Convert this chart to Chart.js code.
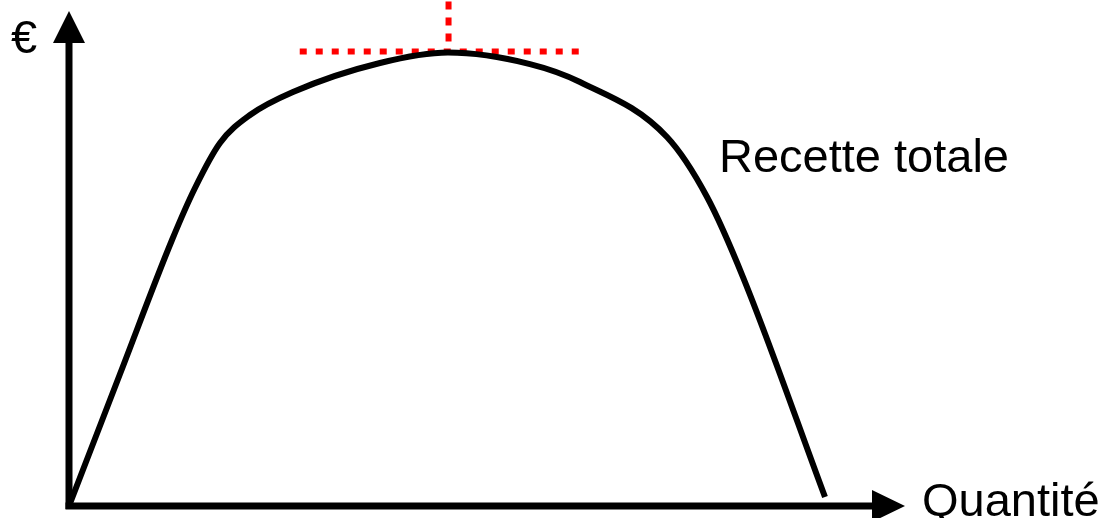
<!DOCTYPE html>
<html lang="fr">
  <head>
    <meta charset="UTF-8" />
    <title>Recette totale</title>
    <script src="https://cdn.jsdelivr.net/npm/chart.js"></script>
    <style>
      body { margin: 0; background: #fff; }
    </style>
  </head>
  <body>
    <div style="width: 1113px; height: 518px">
      <canvas id="myChart"></canvas>
    </div>
  </body>
  <script>
    // courbe de recette totale (quantité -> €)
    const quantite = [0, 6.1, 12.32, 15.07, 18.06, 21.65, 26.79, 37.2, 45.33, 55.14, 61.12, 71.53, 76.32, 80.62, 90.43];
    const recette = [0, 26.61, 53.62, 64.1, 73.17, 78.81, 83.45, 89.3, 91.41, 89.09, 85.47, 74.38, 62.29, 46.16, 1.81];

    // maximum (tangente horizontale en pointillés)
    const maxX = 45.4;
    const maxY = 91.6;
    const tangenteX = [27.6, 61.1];
    const verticaleY = [101.7, 92.5];

    const labelY = "€";
    const labelX = "Quantité";
    const labelCourbe = "Recette totale";

    const police = "'Liberation Sans', Arial, sans-serif";

    // axes avec flèches + textes
    const axesPlugin = {
      id: "axes",
      beforeDatasetsDraw(chart) {
        const c = chart.ctx;
        const sx = chart.scales.x;
        const sy = chart.scales.y;
        const x0 = sx.getPixelForValue(0);
        const y0 = sy.getPixelForValue(0);
        const right = sx.getPixelForValue(100);
        c.save();
        c.strokeStyle = "#000";
        c.fillStyle = "#000";
        c.lineWidth = 7;
        // axe vertical
        c.beginPath();
        c.moveTo(x0, y0 + 3);
        c.lineTo(x0, 43);
        c.stroke();
        c.beginPath();
        c.moveTo(x0, 11);
        c.lineTo(x0 - 16, 43);
        c.lineTo(x0 + 16, 43);
        c.closePath();
        c.fill();
        // axe horizontal
        c.beginPath();
        c.moveTo(x0 - 3.5, y0);
        c.lineTo(right - 33, y0);
        c.stroke();
        c.beginPath();
        c.moveTo(right, y0);
        c.lineTo(right - 33, y0 - 16);
        c.lineTo(right - 33, y0 + 16);
        c.closePath();
        c.fill();
        // textes
        c.font = "47px " + police;
        c.textBaseline = "alphabetic";
        c.fillText(labelY, 11, 53);
        c.fillText(labelCourbe, 719, 172);
        c.fillText(labelX, 922, 516);
        c.restore();
      },
    };

    const ctx = document.querySelector("#myChart");

    new Chart(ctx, {
      type: "scatter",
      data: {
        datasets: [
          {
            label: labelCourbe,
            data: quantite.map((q, i) => ({ x: q, y: recette[i] })),
            showLine: true,
            borderColor: "#000",
            borderWidth: 6,
            pointRadius: 0,
            cubicInterpolationMode: "monotone",
          },
          {
            label: "tangente",
            data: tangenteX.map((q) => ({ x: q, y: maxY })),
            showLine: true,
            borderColor: "#ff0000",
            borderWidth: 6,
            borderDash: [7, 9],
            pointRadius: 0,
          },
          {
            label: "verticale",
            data: verticaleY.map((v) => ({ x: maxX, y: v })),
            showLine: true,
            borderColor: "#ff0000",
            borderWidth: 6,
            borderDash: [8, 8],
            pointRadius: 0,
          },
        ],
      },
      options: {
        responsive: true,
        maintainAspectRatio: false,
        animation: false,
        layout: { padding: { left: 69, right: 208, top: 0, bottom: 12 } },
        plugins: { legend: { display: false }, tooltip: { enabled: false } },
        scales: {
          x: { type: "linear", min: 0, max: 100, display: false },
          y: { type: "linear", min: 0, max: 102, display: false },
        },
      },
      plugins: [axesPlugin],
    });
  </script>
</html>
